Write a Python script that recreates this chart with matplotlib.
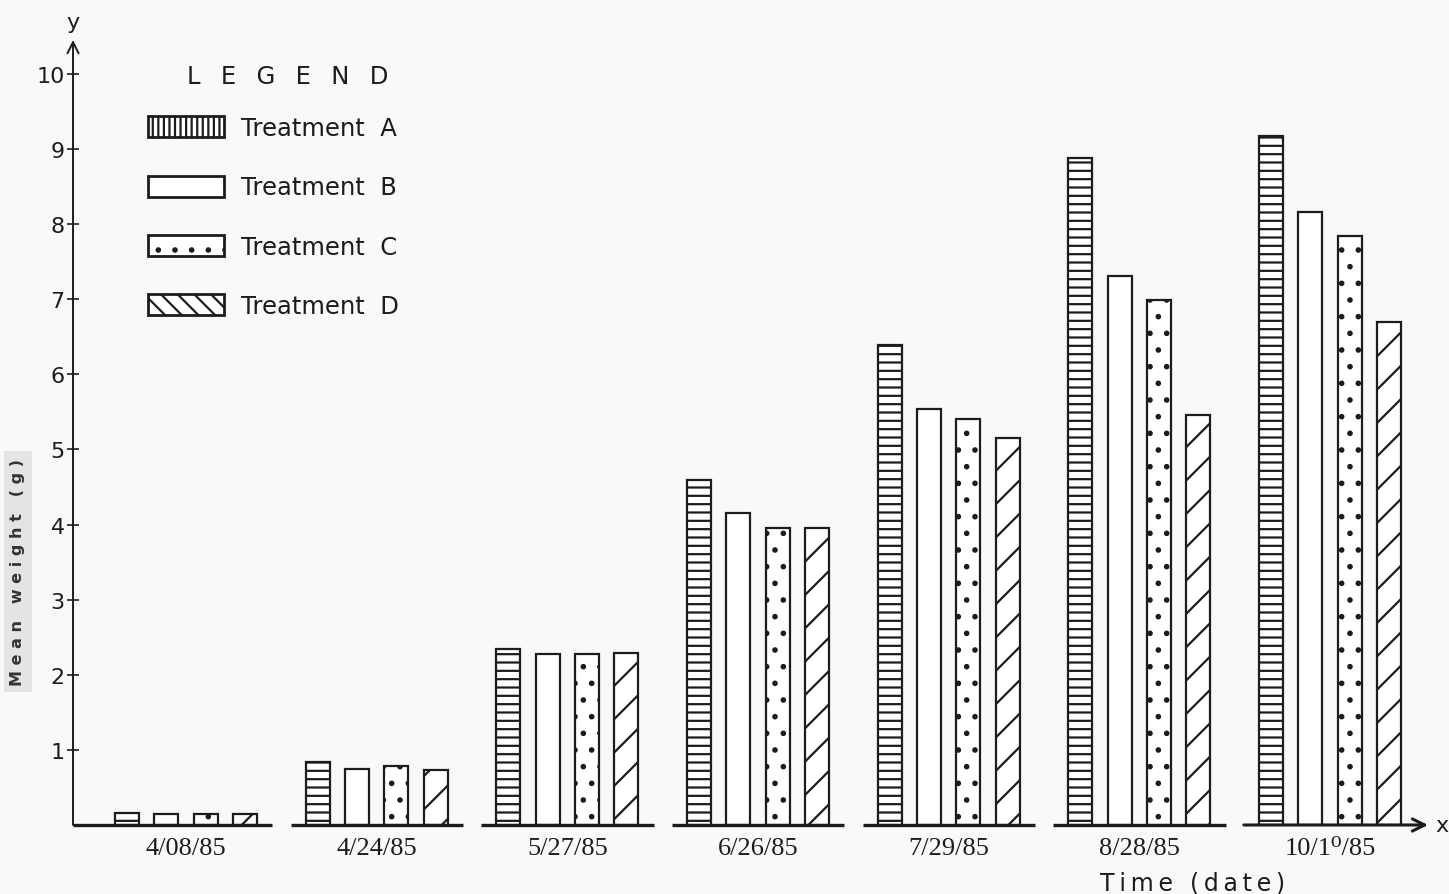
import numpy as np
import matplotlib.pyplot as plt
from matplotlib.patches import Patch

# mean weight (g) of each treatment at each sampling date
dates = ['4/08/85', '4/24/85', '5/27/85', '6/26/85', '7/29/85', '8/28/85', '10/1⁰/85']
treat_a = [0.16, 0.84, 2.34, 4.59, 6.39, 8.88, 9.17]
treat_b = [0.15, 0.75, 2.28, 4.15, 5.54, 7.31, 8.16]
treat_c = [0.15, 0.79, 2.28, 3.95, 5.41, 6.99, 7.84]
treat_d = [0.15, 0.73, 2.29, 3.95, 5.15, 5.46, 6.70]
y_ticks = [1, 2, 3, 4, 5, 6, 7, 8, 9, 10]
legend_names = ['Treatment  A', 'Treatment  B', 'Treatment  C', 'Treatment  D']

ink = '#1c1c1c'
paper = '#f9f9f8'
plt.rcParams['hatch.color'] = ink
plt.rcParams['hatch.linewidth'] = 1.6
plt.rcParams['font.family'] = 'DejaVu Sans'

fig = plt.figure(figsize=(14.49, 8.95), dpi=100, facecolor=paper)
ax = fig.add_axes([0.0504, 0.0771, 0.9351, 0.8771])
ax.set_facecolor(paper)

xmin, xmax = -0.593, 6.514
ymax = 10.45
ax.set_xlim(xmin, xmax)
ax.set_ylim(0, ymax)

x = np.arange(len(dates))
pitch = 0.206
width = 0.126
series = [treat_a, treat_b, treat_c, treat_d]
hatches = ['--', '', '.', '/']
for k, (vals, h) in enumerate(zip(series, hatches)):
    ax.bar(x + (k - 1.5) * pitch, vals, width, facecolor='white',
           edgecolor=ink, linewidth=1.6, hatch=h, zorder=2)

# separate baseline under each date group
half = 1.5 * pitch + width / 2 + 0.08
for i, c in enumerate(x):
    left = xmin if i == 0 else c - half
    if i == len(x) - 1:
        ax.annotate('', xy=(xmax, 0), xytext=(left, 0),
                    arrowprops=dict(arrowstyle='->', color=ink, lw=2.2,
                                    mutation_scale=22, shrinkA=0, shrinkB=0),
                    annotation_clip=False, zorder=3)
    else:
        ax.plot([left, c + half], [0, 0], color=ink, lw=2.4,
                solid_capstyle='butt', zorder=3, clip_on=False)

# vertical axis with arrow
ax.annotate('', xy=(xmin, ymax), xytext=(xmin, 0),
            arrowprops=dict(arrowstyle='->', color=ink, lw=1.4,
                            mutation_scale=20, shrinkA=0, shrinkB=0),
            annotation_clip=False, zorder=3)

for s in ax.spines.values():
    s.set_visible(False)

ax.set_yticks(y_ticks)
ax.set_yticklabels([str(t) for t in y_ticks])
ax.tick_params(axis='y', direction='inout', length=8, width=1.2, color=ink,
               labelsize=16, labelcolor=ink, pad=2)
ax.set_xticks(x)
ax.set_xticklabels(dates, family=['Liberation Serif', 'DejaVu Serif'],
                   fontsize=19, color=ink)
ax.tick_params(axis='x', length=0, pad=9)

ax.text(xmin, ymax + 0.1, 'y', ha='center', va='bottom', fontsize=16,
        color=ink, clip_on=False)
ax.text(xmax + 0.04, 0, 'x', ha='left', va='center', fontsize=16,
        color=ink, clip_on=False)
ax.text(5.28, -0.76, '\u2009'.join('Time (date)'), ha='center', va='center',
        fontsize=17, color=ink, clip_on=False)

fig.text(0.0124, 0.36, 'M e a n   w e i g h t   ( g )', rotation=90,
         ha='center', va='center', fontsize=11.5, fontweight='bold', color='#333333',
         bbox=dict(facecolor='#e4e4e4', edgecolor='none', pad=5))

# legend heading drawn on its own, entries below it
fig.text(0.1988, 0.914, '  \u2009'.join('LEGEND'), ha='center', va='center',
         fontsize=17.5, color=ink)
handles = [Patch(facecolor='white', edgecolor=ink, lw=2.0, hatch='|||'),
           Patch(facecolor='white', edgecolor=ink, lw=2.0),
           Patch(facecolor='white', edgecolor=ink, lw=2.0, hatch='.'),
           Patch(facecolor='white', edgecolor=ink, lw=2.0, hatch='\\\\')]
leg = ax.legend(handles, legend_names,
                loc='upper left', bbox_to_anchor=(0.102, 0.869),
                bbox_transform=fig.transFigure, frameon=False,
                fontsize=17.5, handlelength=3.15,
                handleheight=0.94, handletextpad=0.7, labelspacing=1.45,
                borderpad=0, borderaxespad=0)
for t in leg.get_texts():
    t.set_color(ink)

fig.savefig('out.png', dpi=100, facecolor=paper)
